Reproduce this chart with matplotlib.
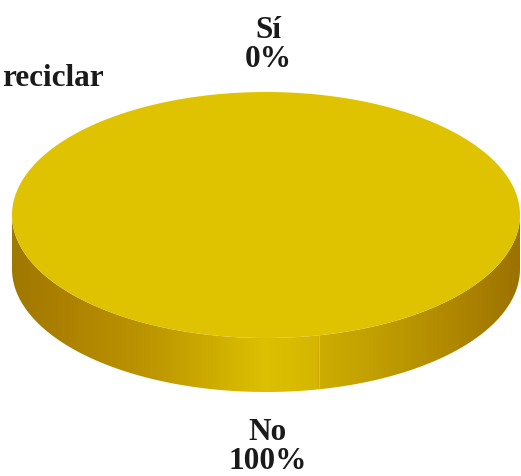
import numpy as np
import matplotlib
matplotlib.use("Agg")
import matplotlib.pyplot as plt
from matplotlib.patches import Polygon

# ---- data ----
categories = ["Sí", "No"]
values = [0, 100]
title = "reciclar"

# ---- figure ----
W, H = 521, 477
fig = plt.figure(figsize=(W / 100, H / 100), dpi=100)
ax = fig.add_axes([0, 0, 1, 1])
ax.set_xlim(0, W)
ax.set_ylim(H, 0)
ax.axis("off")

font = dict(family=["Liberation Serif", "DejaVu Serif"], fontweight="bold",
            fontsize=22.5, color="#1a1a1a")

cx, cy = 266, 216
a, b = 254, 123
depth = 54
top_color = "#dfc300"

total = float(sum(values))
start = 90.0
angles = []
for v in values:
    sweep = 360.0 * v / total
    angles.append((start, start + sweep))
    start += sweep

def ell(theta_deg):
    t = np.radians(theta_deg)
    return cx + a * np.cos(t), cy - b * np.sin(t)

# side (front half) with horizontal gradient
t = np.linspace(0, np.pi, 400)
xs = cx + a * np.cos(t)
ys = cy + b * np.sin(t)
side_pts = np.concatenate([np.column_stack([xs, ys]),
                           np.column_stack([xs[::-1], ys[::-1] + depth])])
side = Polygon(side_pts, closed=True, facecolor="none", edgecolor="none")
ax.add_patch(side)

stops_x = [12, 70, 150, 265, 317, 318.5, 400, 470, 521]
stops_c = ["#a07800", "#ae8200", "#bd9600", "#dcc000", "#d6b600",
           "#cdad00", "#bc9800", "#ab8200", "#9c7200"]
xgrid = np.linspace(0, W, W + 1)
def hex2rgb(h):
    return np.array([int(h[i:i + 2], 16) / 255 for i in (1, 3, 5)])
cols = np.array([hex2rgb(c) for c in stops_c])
grad = np.stack([np.interp(xgrid, stops_x, cols[:, k]) for k in range(3)], axis=-1)
img = ax.imshow(grad[np.newaxis, :, :], extent=(0, W, cy + b + depth + 2, cy - 2),
                aspect="auto", interpolation="bilinear", zorder=1)
img.set_clip_path(side)
seam_x = 318.5
seam_y = cy + b * np.sin(np.arccos((seam_x - cx) / a))
ax.plot([seam_x, seam_x], [seam_y, seam_y + depth], color="#e2c850", lw=0.5, zorder=2)

# top wedges
for (a0, a1), v in zip(angles, values):
    if v <= 0:
        continue
    th = np.linspace(a0, a1, 400)
    px, py = ell(th)
    if v < total:
        px = np.concatenate([[cx], px])
        py = np.concatenate([[cy], py])
    ax.add_patch(Polygon(np.column_stack([px, py]), closed=True,
                         facecolor=top_color, edgecolor="none", zorder=3))

# labels
for (a0, a1), cat, v in zip(angles, categories, values):
    mid = np.radians((a0 + a1) / 2)
    lx = cx + 2 + (a + 50) * np.cos(mid)
    ly = cy - (b + 48) * np.sin(mid)
    if np.sin(mid) < 0:
        ly += depth + 6
    ax.text(lx, ly, f"{cat}\n{v:.0f}%", ha="center", va="center",
            linespacing=1.0, **font, zorder=5)

ax.text(2, 78, title, ha="left", va="center", **font)

fig.savefig("out.png", dpi=100)
